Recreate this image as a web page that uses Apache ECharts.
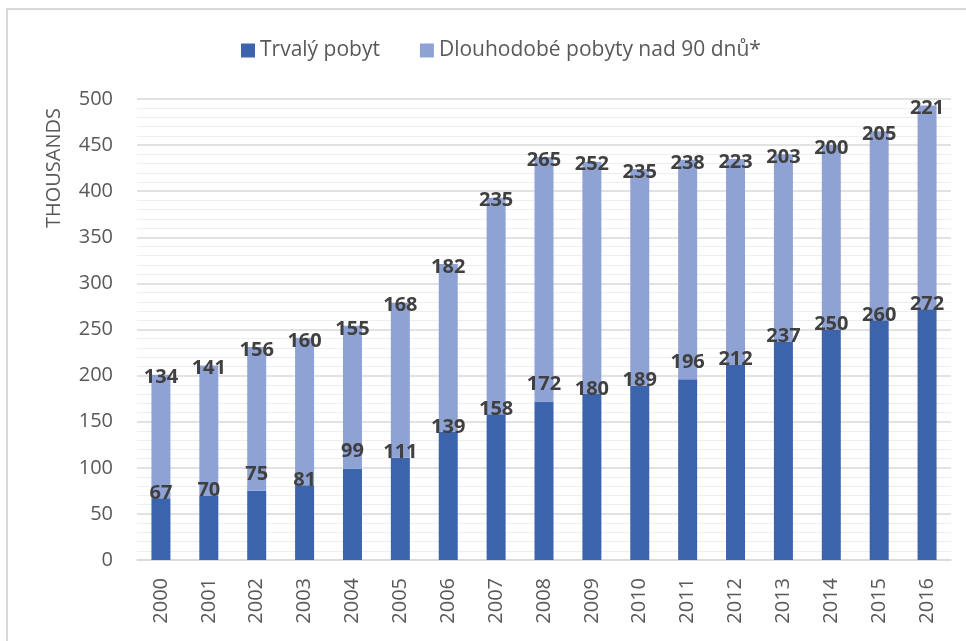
<!DOCTYPE html>
<html>
<head>
<meta charset="utf-8">
<script src="https://cdn.jsdelivr.net/npm/echarts@6/dist/echarts.min.js"></script>
<style>
  html, body { margin: 0; padding: 0; background: #fff; }
  #main { width: 966px; height: 641px; }
</style>
</head>
<body>
<div id="main"></div>
<script>
var years = ['2000', '2001', '2002', '2003', '2004', '2005', '2006', '2007', '2008',
             '2009', '2010', '2011', '2012', '2013', '2014', '2015', '2016'];
var trvaly = [67, 70, 75, 81, 99, 111, 139, 158, 172, 180, 189, 196, 212, 237, 250, 260, 272];
var dlouhodobe = [134, 141, 156, 160, 155, 168, 182, 235, 265, 252, 235, 238, 223, 203, 200, 205, 221];
var yTicks = [0, 50, 100, 150, 200, 250, 300, 350, 400, 450, 500];
// labels that sit higher in the original (Excel leader lines)
var raised = ['2002', '2004', '2008', '2011'];

var fontFam = '"Open Sans", sans-serif';

var myChart = echarts.init(document.getElementById('main'));

var trvalyData = trvaly.map(function (v, i) {
    if (raised.indexOf(years[i]) >= 0) {
        return { value: v, label: { offset: [0, -12] } };
    }
    return v;
});

option = {
    animation: false,
    textStyle: { fontFamily: fontFam },
    graphic: [{
        type: 'rect',
        shape: { x: 7, y: 9, width: 1000, height: 700 },
        style: { fill: 'none', stroke: '#d9d9d9', lineWidth: 2 },
        silent: true
    }, {
        type: 'text',
        left: 44,
        top: 108,
        rotation: Math.PI / 2,
        style: {
            text: 'THOUSANDS',
            fill: '#595959',
            font: '20px ' + fontFam
        }
    }],
    legend: {
        top: 35,
        left: 236,
        itemWidth: 14,
        itemHeight: 14,
        itemGap: 40,
        icon: 'rect',
        textStyle: { fontSize: 21, color: '#595959', fontFamily: fontFam },
        data: ['Trvalý pobyt', 'Dlouhodobé pobyty nad 90 dnů*']
    },
    grid: { left: 137, right: 15, top: 99, bottom: 81 },
    xAxis: {
        type: 'category',
        data: years,
        axisTick: { show: false },
        axisLine: { lineStyle: { color: '#d9d9d9', width: 1.5 } },
        axisLabel: {
            rotate: 90,
            margin: 18,
            fontSize: 20,
            color: '#595959',
            fontFamily: fontFam
        }
    },
    yAxis: {
        type: 'value',
        min: yTicks[0],
        max: yTicks[yTicks.length - 1],
        interval: 50,
        axisLine: { show: false },
        axisTick: { show: false },
        axisLabel: { margin: 24, fontSize: 20, color: '#595959', fontFamily: fontFam },
        splitLine: { lineStyle: { color: '#d9d9d9', width: 1.5 } },
        minorTick: { show: false, splitNumber: 5 },
        minorSplitLine: { show: true, lineStyle: { color: '#eeeeee', width: 1 } }
    },
    series: [{
        name: 'Trvalý pobyt',
        type: 'bar',
        stack: 'total',
        barWidth: 19,
        itemStyle: { color: '#3c64ad' },
        label: {
            show: true,
            position: 'top',
            distance: -5,
            fontSize: 20,
            fontWeight: 'bold',
            color: '#404040',
            fontFamily: fontFam
        },
        data: trvalyData
    }, {
        name: 'Dlouhodobé pobyty nad 90 dnů*',
        type: 'bar',
        stack: 'total',
        barWidth: 19,
        itemStyle: { color: '#8fa2d4' },
        label: {
            show: true,
            position: 'top',
            distance: -13,
            fontSize: 20,
            fontWeight: 'bold',
            color: '#404040',
            fontFamily: fontFam
        },
        data: dlouhodobe
    }]
};

myChart.setOption(option);
</script>
</body>
</html>
